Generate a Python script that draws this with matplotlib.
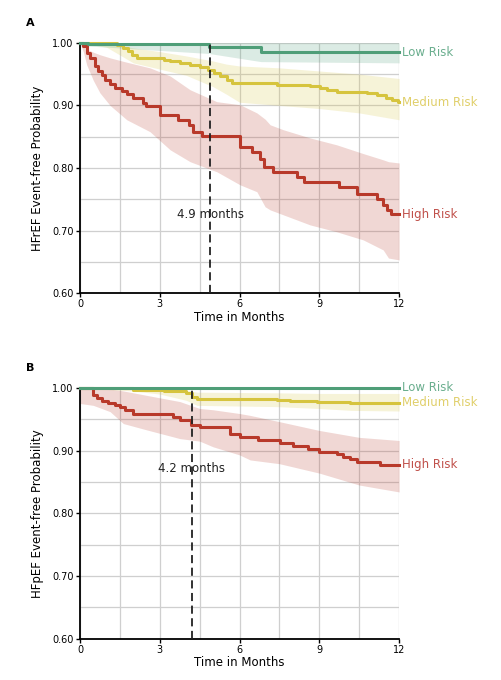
import numpy as np
import matplotlib.pyplot as plt
from matplotlib.ticker import MultipleLocator

# ---- panel A (HFrEF) ----
a_low_t = [0, 0.3, 4.85, 6.8, 12]
a_low_s = [1.0, 0.998, 0.993, 0.985, 0.985]
a_low_band_t = [0, 0.3, 4.85, 6.8, 12]
a_low_lo = [1.0, 0.995, 0.983, 0.970, 0.968]
a_low_hi = [1.0, 1.0, 1.0, 1.0, 1.0]

a_med_t = [0, 1.38, 1.63, 1.82, 1.95, 2.13, 3.14, 3.39, 3.76, 4.14, 4.5, 4.83, 5.02,
           5.27, 5.52, 5.7, 7.4, 8.65, 9.03, 9.28, 9.66, 10.8, 11.16, 11.5, 11.75, 11.97]
a_med_s = [1.0, 0.997, 0.992, 0.987, 0.981, 0.975, 0.973, 0.971, 0.968, 0.964, 0.961,
           0.957, 0.952, 0.947, 0.941, 0.936, 0.933, 0.931, 0.928, 0.925, 0.922, 0.920,
           0.916, 0.912, 0.908, 0.905]
a_med_band_t = [0, 1, 2, 3, 4, 5, 5.5, 6, 7.5, 9, 10.5, 12]
a_med_lo = [1.0, 0.993, 0.968, 0.958, 0.948, 0.930, 0.918, 0.905, 0.900, 0.895, 0.888, 0.877]
a_med_hi = [1.0, 1.0, 0.992, 0.986, 0.979, 0.971, 0.966, 0.963, 0.960, 0.955, 0.950, 0.943]

a_high_t = [0, 0.125, 0.25, 0.38, 0.56, 0.69, 0.82, 0.94, 1.13, 1.32, 1.57, 1.76, 2.0,
            2.38, 2.5, 3.0, 3.7, 4.08, 4.26, 4.6, 6.0, 6.46, 6.77, 6.9, 7.27, 8.15, 8.43,
            9.72, 10.4, 11.16, 11.41, 11.55, 11.7]
a_high_s = [1.0, 0.995, 0.984, 0.976, 0.963, 0.955, 0.949, 0.941, 0.934, 0.928, 0.923,
            0.918, 0.912, 0.904, 0.899, 0.885, 0.877, 0.869, 0.858, 0.851, 0.834, 0.826,
            0.815, 0.802, 0.794, 0.786, 0.778, 0.769, 0.759, 0.751, 0.740, 0.733, 0.726]
a_high_band_t = [0, 0.13, 0.25, 0.5, 0.75, 1.13, 1.76, 2.63, 3.39, 4.14, 5.14, 6.02,
                 6.65, 6.96, 7.15, 7.65, 8.65, 9.65, 10.65, 11.4, 11.6, 12]
a_high_lo = [1.0, 0.985, 0.965, 0.940, 0.920, 0.900, 0.877, 0.858, 0.829, 0.810, 0.794,
             0.773, 0.762, 0.738, 0.733, 0.725, 0.709, 0.698, 0.685, 0.669, 0.656, 0.653]
a_high_hi = [1.0, 0.995, 0.990, 0.985, 0.981, 0.976, 0.969, 0.960, 0.947, 0.925, 0.906,
             0.901, 0.888, 0.878, 0.869, 0.861, 0.848, 0.837, 0.823, 0.813, 0.810, 0.808]

# ---- panel B (HFpEF) ----
b_low_t = [0, 12]
b_low_s = [1.0, 1.0]

b_med_t = [0, 1.25, 2.0, 3.14, 4.0, 4.2, 4.4, 7.4, 7.89, 8.9, 10.16]
b_med_s = [1.0, 0.999, 0.997, 0.995, 0.991, 0.986, 0.982, 0.980, 0.979, 0.978, 0.976]
b_med_band_t = [0, 2, 3, 4, 4.4, 7.4, 9, 10.2, 12]
b_med_lo = [1.0, 0.995, 0.990, 0.980, 0.972, 0.970, 0.967, 0.964, 0.963]
b_med_hi = [1.0, 1.0, 1.0, 0.996, 0.993, 0.992, 0.991, 0.991, 0.991]

b_high_t = [0, 0.48, 0.63, 0.82, 1.07, 1.32, 1.5, 1.69, 2.0, 3.51, 3.76, 4.18, 4.52,
            5.65, 6.02, 6.71, 7.52, 8.0, 8.59, 8.97, 9.65, 9.9, 10.16, 10.41, 11.28]
b_high_s = [1.0, 0.988, 0.983, 0.979, 0.975, 0.972, 0.969, 0.965, 0.959, 0.954, 0.948,
            0.940, 0.937, 0.927, 0.921, 0.917, 0.912, 0.907, 0.902, 0.898, 0.894, 0.890,
            0.886, 0.881, 0.877]
b_high_band_t = [0, 0.5, 1.13, 1.63, 2.5, 3.76, 4.5, 5, 6.0, 6.4, 7.5, 9, 10.5, 12]
b_high_lo = [0.975, 0.972, 0.962, 0.943, 0.933, 0.919, 0.915, 0.906, 0.893, 0.885,
             0.879, 0.864, 0.845, 0.834]
b_high_hi = [1.0, 1.0, 0.998, 0.995, 0.988, 0.978, 0.967, 0.965, 0.959, 0.956, 0.946,
             0.932, 0.921, 0.916]

median_a = 4.9
median_b = 4.2

GREEN = '#4f9e78'
YELLOW = '#d6c43e'
RED = '#b8392a'
GREEN_TXT = '#6aae8e'
YELLOW_TXT = '#e0cf6a'
RED_TXT = '#c0504a'

plt.rcParams['font.family'] = 'DejaVu Sans'


def draw_group(ax, t, s, band_t, lo, hi, color, fill_alpha, label, label_color):
    t = list(t) + [12]
    s = list(s) + [s[-1]]
    if band_t is not None:
        ax.fill_between(band_t, lo, hi, color=color, alpha=fill_alpha, lw=0, zorder=2)
    ax.step(t, s, where='post', color=color, lw=2.2, zorder=4, clip_on=False)
    ax.text(12.12, s[-1], label, color=label_color, fontsize=8.5, va='center', ha='left')


def plot_panel(ax, groups, median, ylabel, letter):
    for g in groups:
        draw_group(ax, *g)

    ax.plot([median, median], [0.6, 1.0], color='#222222', lw=1.3,
            dashes=(4.5, 2.5), zorder=5)

    ax.set_xlim(0, 12)
    ax.set_ylim(0.6, 1.0)
    ax.xaxis.set_major_locator(MultipleLocator(3))
    ax.xaxis.set_minor_locator(MultipleLocator(1.5))
    ax.yaxis.set_major_locator(MultipleLocator(0.1))
    ax.yaxis.set_minor_locator(MultipleLocator(0.05))
    ax.set_yticklabels(['%.2f' % v for v in ax.get_yticks()])
    ax.grid(which='both', color='#cfcfcf', lw=0.9, zorder=0)
    ax.set_axisbelow(True)
    ax.tick_params(which='minor', length=0)
    ax.tick_params(which='major', length=3, width=1, labelsize=7, pad=1.5)

    for side in ['top', 'right']:
        ax.spines[side].set_visible(False)
    for side in ['left', 'bottom']:
        ax.spines[side].set_linewidth(1.3)

    ax.set_xlabel('Time in Months', fontsize=8.5, labelpad=1)
    ax.set_ylabel(ylabel, fontsize=8.5, labelpad=6)
    ax.text(-0.17, 1.078, letter, transform=ax.transAxes, fontsize=8,
            fontweight='bold', ha='left', va='center')


fig = plt.figure(figsize=(5.01, 6.80), dpi=100)
ax_a = fig.add_axes([0.1597, 0.569, 0.637, 0.368])
ax_b = fig.add_axes([0.1597, 0.0607, 0.637, 0.369])

groups_a = [
    (a_high_t, a_high_s, a_high_band_t, a_high_lo, a_high_hi, RED, 0.2, 'High Risk', RED_TXT),
    (a_med_t, a_med_s, a_med_band_t, a_med_lo, a_med_hi, YELLOW, 0.2, 'Medium Risk', YELLOW_TXT),
    (a_low_t, a_low_s, a_low_band_t, a_low_lo, a_low_hi, GREEN, 0.2, 'Low Risk', GREEN_TXT),
]
plot_panel(ax_a, groups_a, median_a, 'HFrEF Event-free Probability', 'A')
ax_a.text(median_a, 0.726, '%.1f months' % median_a, fontsize=8.5, ha='center',
          va='center', color='#222222', zorder=6)

groups_b = [
    (b_high_t, b_high_s, b_high_band_t, b_high_lo, b_high_hi, RED, 0.2, 'High Risk', RED_TXT),
    (b_med_t, b_med_s, b_med_band_t, b_med_lo, b_med_hi, YELLOW, 0.2, 'Medium Risk', YELLOW_TXT),
    (b_low_t, b_low_s, None, None, None, GREEN, 0.2, 'Low Risk', GREEN_TXT),
]
plot_panel(ax_b, groups_b, median_b, 'HFpEF Event-free Probability', 'B')
ax_b.text(median_b, 0.872, '%.1f months' % median_b, fontsize=8.5, ha='center',
          va='center', color='#222222', zorder=6)

plt.savefig('out.png', dpi=100)
